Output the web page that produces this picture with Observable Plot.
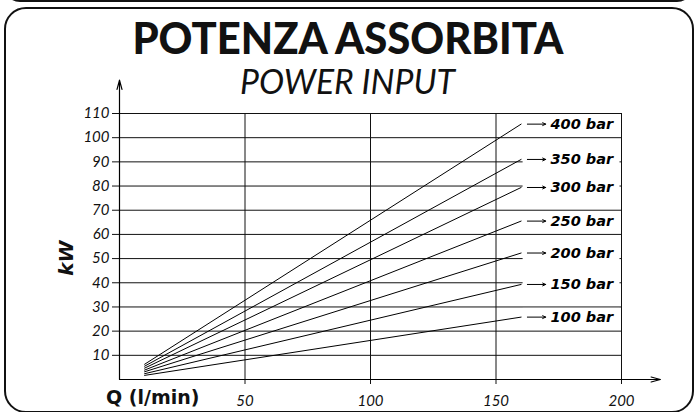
<!DOCTYPE html>
<html>
<head>
<meta charset="utf-8">
<script src="https://cdn.jsdelivr.net/npm/d3@7"></script>
<script src="https://cdn.jsdelivr.net/npm/@observablehq/plot@0.6"></script>
<style>
  html, body { margin: 0; padding: 0; background: #fff; }
  #wrap { position: relative; width: 695px; height: 412px; overflow: hidden; font-family: "Lato", "DejaVu Sans", sans-serif; color: #111; }
  #chart { position: absolute; left: 0; top: 0; }
  .frame { position: absolute; box-sizing: border-box; border: 2.5px solid #111; border-radius: 22px; pointer-events: none; }
  .center { position: absolute; left: 0; width: 695px; text-align: center; white-space: nowrap; }
  .center span { display: inline-block; transform-origin: 50% 50%; }
  #title { top: 15px; font-size: 44px; font-weight: 900; line-height: 1; }
  #subtitle { top: 64px; font-size: 34px; font-style: italic; font-weight: 400; line-height: 1; }
  #ylab { position: absolute; left: 66px; top: 258px; font-family: "DejaVu Sans", sans-serif; font-size: 20px; font-weight: bold; font-style: oblique; transform: translate(-50%, -50%) rotate(-90deg); white-space: nowrap; line-height: 1; }
  #xlab { position: absolute; left: 106px; top: 388px; font-family: "DejaVu Sans", sans-serif; font-size: 19px; font-weight: bold; white-space: nowrap; line-height: 1; }
</style>
</head>
<body>
<div id="wrap">
  <div id="chart"></div>
  <div class="center" id="title"><span>POTENZA ASSORBITA</span></div>
  <div class="center" id="subtitle"><span>POWER INPUT</span></div>
  <div id="ylab">kW</div>
  <div id="xlab">Q (l/min)</div>
  <div class="frame" style="left:4px; top:-30px; width:689px; height:32px;"></div>
  <div class="frame" style="left:4px; top:7px; width:690px; height:406px;"></div>
</div>
<script>
// ---- data ----
const series   = ["400 bar", "350 bar", "300 bar", "250 bar", "200 bar", "150 bar", "100 bar"];
const flowStart = 10;    // l/min where curves begin
const flowEnd   = 160;   // l/min where curves end
const kwStart  = [6.3, 5.5, 4.7, 3.9, 3.2, 2.4, 1.7];
const kwEnd    = [105.6, 91.0, 79.4, 65.5, 52.3, 39.3, 25.8];
const yTicks   = [10, 20, 30, 40, 50, 60, 70, 80, 90, 100, 110];
const xTicks   = [50, 100, 150, 200];
const xMax = 200, yMax = 110;
const xArrowTip = 215.5, yArrowTip = 123.8;

const lineData = series.flatMap((p, i) => [
  {p, q: flowStart, kw: kwStart[i]},
  {p, q: flowEnd, kw: kwEnd[i]}
]);
const labels = series.map((p, i) => ({p, q: flowEnd, kw: kwEnd[i]}));

const chart = Plot.plot({
  width: 695, height: 412,
  marginLeft: 119, marginRight: 74, marginTop: 113, marginBottom: 33,
  x: {domain: [0, xMax]},
  y: {domain: [0, yMax]},
  style: {fontFamily: "Lato, 'DejaVu Sans', sans-serif", fontStyle: "italic", color: "#111", background: "transparent"},
  marks: [
    Plot.gridY(yTicks, {stroke: "#111", strokeOpacity: 1, strokeWidth: 1}),
    Plot.gridX(xTicks, {stroke: "#111", strokeOpacity: 1, strokeWidth: 1}),
    Plot.axisY(yTicks, {tickSize: 7, tickPadding: 3, fontSize: 15, label: null, tickFormat: d => d}),
    Plot.axisX(xTicks, {tickSize: 5, tickPadding: 11, fontSize: 15, label: null, tickFormat: d => d}),
    Plot.line(lineData, {x: "q", y: "kw", z: "p", stroke: "#000", strokeWidth: 1}),
    Plot.rect(labels, {x1: d => d.q + 0.8, x2: d => d.q + 39.4, y1: d => d.kw - 3.6, y2: d => d.kw + 3.6, fill: "white"}),
    Plot.arrow(labels, {x1: d => d.q + 2.5, x2: d => d.q + 9.8, y1: "kw", y2: "kw", stroke: "#000", strokeWidth: 1, headLength: 5, headAngle: 50}),
    Plot.text(labels, {x: d => d.q + 11.7, y: "kw", text: "p", textAnchor: "start", fontFamily: "'DejaVu Sans', sans-serif", fontWeight: "bold", fontStyle: "oblique", fontSize: 14.5, fill: "#000"}),
    Plot.arrow([0], {x1: 0, y1: 0, x2: 0, y2: yArrowTip, stroke: "#000", strokeWidth: 1.2, headLength: 12, headAngle: 30}),
    Plot.arrow([0], {x1: 0, y1: 0, x2: xArrowTip, y2: 0, stroke: "#000", strokeWidth: 1.2, headLength: 12, headAngle: 30})
  ]
});
document.getElementById("chart").appendChild(chart);

function fit(sel, target) {
  const el = document.querySelector(sel);
  const w = el.getBoundingClientRect().width;
  el.style.transform = `scaleX(${target / w})`;
}
fit("#title span", 431);
fit("#subtitle span", 215);
</script>
</body>
</html>
